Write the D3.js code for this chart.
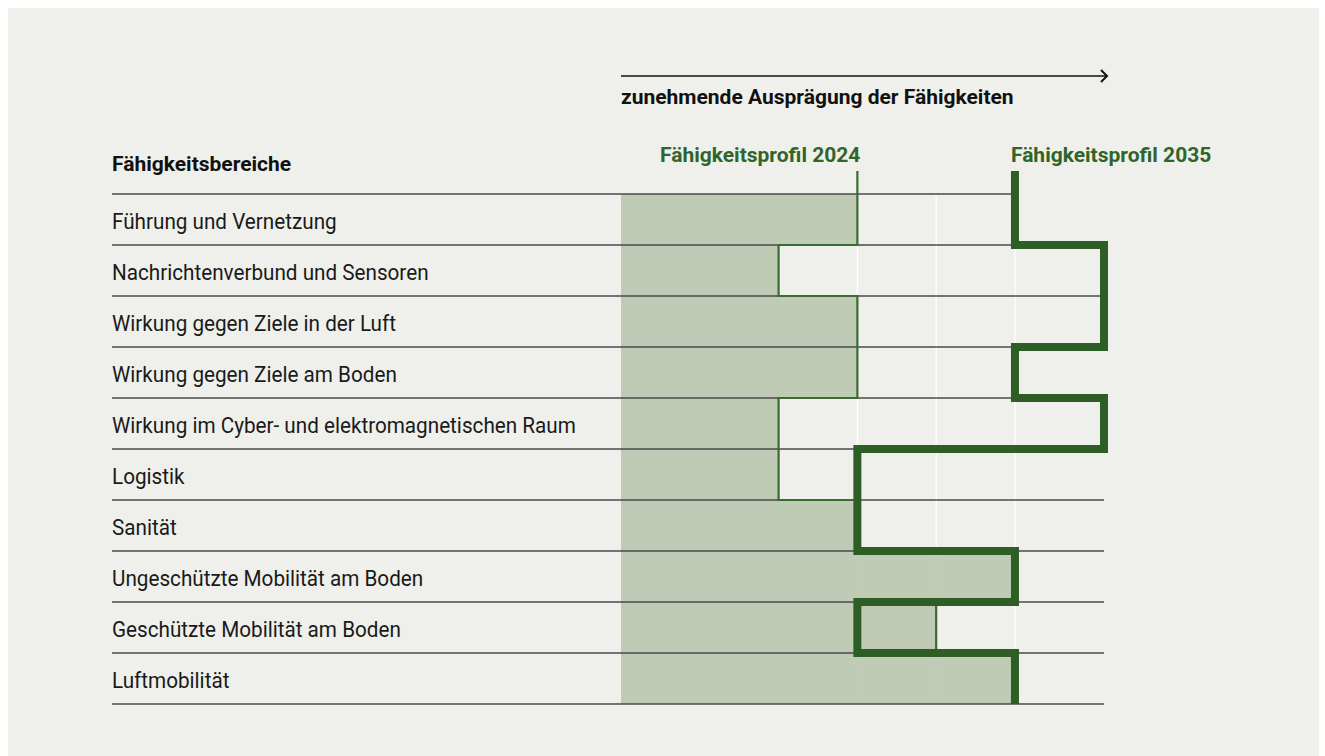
<!DOCTYPE html>
<html>
<head>
<meta charset="utf-8">
<script src="https://cdn.jsdelivr.net/npm/d3@7"></script>
<style>
  body { margin: 0; background: #fff; }
  text { font-family: Roboto, sans-serif; }
</style>
</head>
<body>
<div id="container"></div>
<script>
const w = 1325;
const h = 756;

const categories = [
  "Führung und Vernetzung",
  "Nachrichtenverbund und Sensoren",
  "Wirkung gegen Ziele in der Luft",
  "Wirkung gegen Ziele am Boden",
  "Wirkung im Cyber- und elektromagnetischen Raum",
  "Logistik",
  "Sanität",
  "Ungeschützte Mobilität am Boden",
  "Geschützte Mobilität am Boden",
  "Luftmobilität"
];
const profile2024 = [3, 2, 3, 3, 2, 2, 3, 5, 4, 5];
const profile2035 = [5, 6.13, 6.13, 5, 6.13, 3, 3, 5, 3, 5];
const gridLevels = [3, 4, 5];

const svg = d3.select("#container")
  .append("svg")
  .attr("width", w)
  .attr("height", h);

svg.append("rect")
  .attr("x", 8).attr("y", 8)
  .attr("width", 1311).attr("height", 760)
  .attr("fill", "#eff0eb");

const xScale = d3.scaleLinear().domain([0, 6.13]).range([621, 1104]);
const yScale = d3.scaleBand().domain(categories).range([194, 704]);
const yTop = 171;

// grid
svg.selectAll(".grid")
  .data(gridLevels)
  .enter()
  .append("line")
  .attr("x1", d => xScale(d)).attr("x2", d => xScale(d))
  .attr("y1", 194).attr("y2", 704)
  .attr("stroke", "#ffffff")
  .attr("stroke-width", 1.2);

// 2024 fill
svg.selectAll(".bar")
  .data(categories)
  .enter()
  .append("rect")
  .attr("x", xScale(0))
  .attr("y", d => yScale(d))
  .attr("width", (d, i) => xScale(profile2024[i]) - xScale(0))
  .attr("height", yScale.bandwidth())
  .attr("fill", "#b6c4ab")
  .attr("opacity", 0.85);

// row lines
svg.selectAll(".row")
  .data(categories)
  .enter()
  .append("line")
  .attr("x1", 112)
  .attr("x2", xScale(6.13))
  .attr("y1", d => yScale(d) + yScale.bandwidth())
  .attr("y2", d => yScale(d) + yScale.bandwidth())
  .attr("stroke", "#4a4a4a")
  .attr("stroke-width", 1.3);
svg.append("line")
  .attr("x1", 112).attr("x2", xScale(5))
  .attr("y1", 194).attr("y2", 194)
  .attr("stroke", "#4a4a4a")
  .attr("stroke-width", 1.3);

function stepPoints(values) {
  const pts = [[xScale(values[0]), yTop]];
  values.forEach((v, i) => {
    const yb = yScale(categories[i]) + yScale.bandwidth();
    pts.push([xScale(v), yb]);
    if (i < values.length - 1) pts.push([xScale(values[i + 1]), yb]);
  });
  return pts;
}

svg.append("path")
  .attr("d", d3.line()(stepPoints(profile2024)))
  .attr("fill", "none")
  .attr("stroke", "#3b6b31")
  .attr("stroke-width", 2.2);

svg.append("path")
  .attr("d", d3.line()(stepPoints(profile2035)))
  .attr("fill", "none")
  .attr("stroke", "#2c5e26")
  .attr("stroke-width", 8)
  .attr("stroke-linejoin", "miter");

// labels (slightly condensed)
svg.selectAll(".label")
  .data(categories)
  .enter()
  .append("text")
  .attr("transform", d => "translate(112," + (yScale(d) + yScale.bandwidth() / 2 + 9.5) + ") scale(0.94,1)")
  .attr("font-size", 22)
  .attr("fill", "#1a1a1a")
  .text(d => d);

svg.append("text")
  .attr("x", 112).attr("y", 171)
  .attr("font-size", 21).attr("font-weight", "bold")
  .attr("fill", "#111")
  .text("Fähigkeitsbereiche");

svg.append("text")
  .attr("x", xScale(3) + 3).attr("y", 162)
  .attr("text-anchor", "end")
  .attr("font-size", 21).attr("font-weight", "bold")
  .attr("fill", "#2f6529")
  .text("Fähigkeitsprofil 2024");

svg.append("text")
  .attr("x", xScale(5) - 4).attr("y", 162)
  .attr("font-size", 21).attr("font-weight", "bold")
  .attr("fill", "#2f6529")
  .text("Fähigkeitsprofil 2035");

// arrow
svg.append("line")
  .attr("x1", xScale(0)).attr("x2", 1107)
  .attr("y1", 76).attr("y2", 76)
  .attr("stroke", "#111").attr("stroke-width", 1.5);
svg.append("path")
  .attr("d", "M1101,70 L1107,76 L1101,82")
  .attr("fill", "none").attr("stroke", "#111").attr("stroke-width", 2);

svg.append("text")
  .attr("x", xScale(0)).attr("y", 104)
  .attr("font-size", 21).attr("font-weight", "bold")
  .attr("fill", "#111")
  .text("zunehmende Ausprägung der Fähigkeiten");
</script>
</body>
</html>
